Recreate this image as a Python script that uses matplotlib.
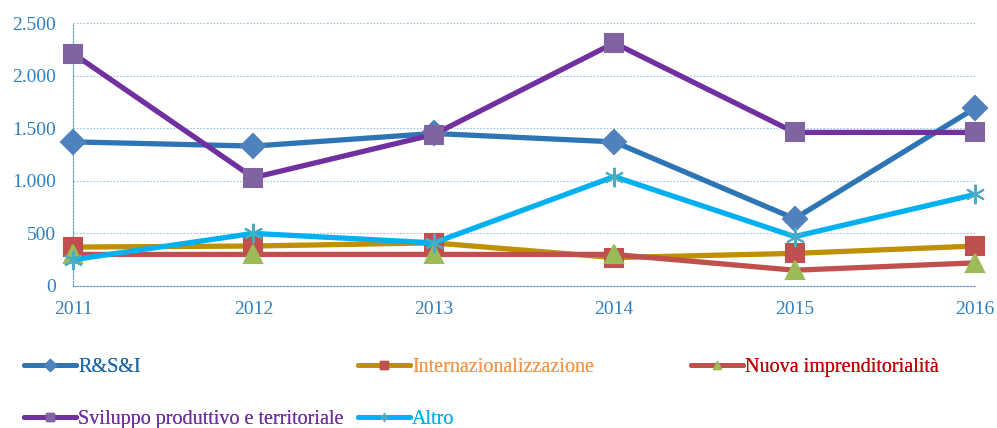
import matplotlib
matplotlib.use("Agg")
import matplotlib.pyplot as plt
from matplotlib.lines import Line2D
from matplotlib.ticker import FuncFormatter

years = [2011, 2012, 2013, 2014, 2015, 2016]
rsi = [1370, 1330, 1450, 1370, 640, 1690]
internazionalizzazione = [370, 380, 410, 270, 310, 380]
nuova_impr = [300, 300, 300, 300, 150, 220]
sviluppo = [2210, 1030, 1440, 2310, 1460, 1460]
altro = [250, 500, 410, 1040, 470, 870]

y_ticks = [0, 500, 1000, 1500, 2000, 2500]

# (label, values, line colour, marker, marker colour, text colour)
series = [
    ("R&S&I", rsi, "#2E75B6", "D", "#4F81BD", "#1F6AA5"),
    ("Internazionalizzazione", internazionalizzazione, "#BF9000", "s", "#C0504D", "#F79646"),
    ("Nuova imprenditorialità", nuova_impr, "#C0504D", "^", "#9BBB59", "#C00000"),
    ("Sviluppo produttivo e territoriale", sviluppo, "#7030A0", "s", "#8064A2", "#7030A0"),
    ("Altro", altro, "#00B0F0", (6, 2, 0), "#4BACC6", "#00B0F0"),
]
marker_size = {"D": 12, "s": 13, "^": 13, (6, 2, 0): 14}

plt.rcParams["font.family"] = ["Liberation Serif", "DejaVu Serif"]

fig = plt.figure(figsize=(9.97, 4.28), dpi=100, facecolor="white")
ax = fig.add_axes([73 / 997, 142 / 428, 902 / 997, 263 / 428])

handles = {}
for label, values, color, marker, mcolor, tcolor in series:
    ms = marker_size[marker]
    ax.plot(years, values, color=color, linewidth=3.8, marker=marker, markersize=ms,
            markerfacecolor=mcolor, markeredgecolor=mcolor, markeredgewidth=1.5,
            clip_on=False, zorder=3, solid_joinstyle="round")
    handles[label] = Line2D([], [], color=color, linewidth=3.6, marker=marker,
                            markersize=6, markerfacecolor=mcolor, markeredgecolor=mcolor,
                            solid_capstyle="round")

ax.set_xlim(2011, 2016)
ax.set_ylim(0, 2500)
ax.set_xticks(years)
ax.set_yticks(y_ticks)
ax.yaxis.set_major_formatter(FuncFormatter(lambda v, _p: f"{v:,.0f}".replace(",", ".")))
ax.grid(axis="y", color="#9DC3E6", linestyle=(0, (1.5, 1.5)), linewidth=0.8, zorder=0)
ax.set_axisbelow(True)
for side in ["top", "right"]:
    ax.spines[side].set_visible(False)
for side in ["left", "bottom"]:
    ax.spines[side].set_color("#5B9BD5")
    ax.spines[side].set_linestyle((0, (1.5, 1.5)))
    ax.spines[side].set_linewidth(0.8)
ax.tick_params(length=0, labelsize=14, labelcolor="#2E7FC0")
ax.tick_params(axis="x", pad=11)
ax.tick_params(axis="y", pad=12)

# legend in three columns, laid out as separate blocks
columns = [
    (24 / 997, ["R&S&I", "Sviluppo produttivo e territoriale"]),
    (358 / 997, ["Internazionalizzazione", "Altro"]),
    (691 / 997, ["Nuova imprenditorialità"]),
]
text_colors = {s[0]: s[5] for s in series}
for x0, labels in columns:
    leg = fig.legend([handles[l] for l in labels], labels, loc="upper left",
                     bbox_to_anchor=(x0, 70 / 428), frameon=False, fontsize=14.5,
                     prop={"family": ["Liberation Serif", "DejaVu Serif"], "size": 14.5},
                     handlelength=2.6, handletextpad=0.08, labelspacing=1.62,
                     borderaxespad=0, borderpad=0, numpoints=1,
                     labelcolor=[text_colors[l] for l in labels])
    fig.add_artist(leg)

fig.savefig("out.png", dpi=100, facecolor="white")
